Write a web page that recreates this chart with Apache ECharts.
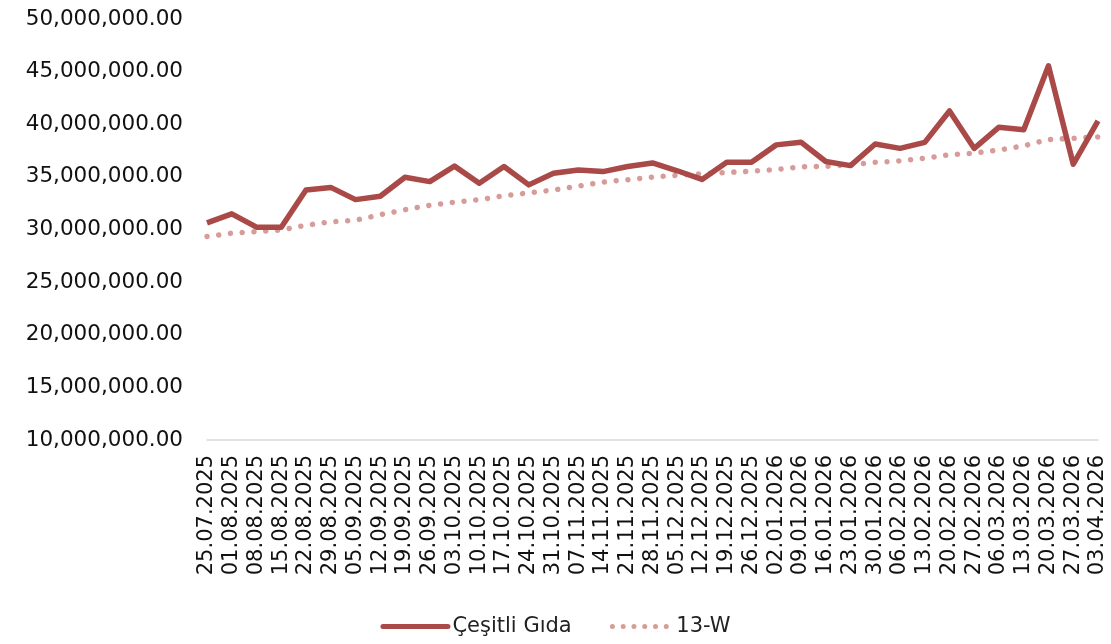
<!DOCTYPE html>
<html>
<head>
<meta charset="utf-8">
<script src="https://cdn.jsdelivr.net/npm/echarts@6/dist/echarts.min.js"></script>
<style>html,body{margin:0;padding:0;background:#fff}#c{width:1111px;height:644px}</style>
</head>
<body>
<div id="c"></div>
<script>
const categories = ["25.07.2025","01.08.2025","08.08.2025","15.08.2025","22.08.2025","29.08.2025","05.09.2025","12.09.2025","19.09.2025","26.09.2025","03.10.2025","10.10.2025","17.10.2025","24.10.2025","31.10.2025","07.11.2025","14.11.2025","21.11.2025","28.11.2025","05.12.2025","12.12.2025","19.12.2025","26.12.2025","02.01.2026","09.01.2026","16.01.2026","23.01.2026","30.01.2026","06.02.2026","13.02.2026","20.02.2026","27.02.2026","06.03.2026","13.03.2026","20.03.2026","27.03.2026","03.04.2026"];
const cesitliGida = [30.63,31.49,30.22,30.22,33.76,34.0,32.84,33.16,34.96,34.55,36.02,34.4,35.98,34.24,35.34,35.66,35.5,35.98,36.32,35.58,34.76,36.4,36.4,38.04,38.3,36.46,36.07,38.12,37.71,38.28,41.26,37.7,39.72,39.48,45.55,36.2,40.33].map(v=>v*1e6);
const w13 = [29.34,29.65,29.8,29.95,30.4,30.73,30.88,31.4,31.88,32.3,32.6,32.83,33.2,33.48,33.75,34.12,34.5,34.73,34.98,35.15,35.3,35.42,35.54,35.7,35.95,36.0,36.16,36.38,36.52,36.77,37.1,37.25,37.55,37.95,38.55,38.66,38.8].map(v=>v*1e6);
const seriesNames = ["Çeşitli Gıda","13-W"];

const font = "DejaVu Sans";
const solidIcon = 'path://M2.5,0 H67.5 A2.5,2.5 0 0,1 67.5,5 H2.5 A2.5,2.5 0 0,1 2.5,0 Z';
let dots = '';
for (let k = 0; k < 6; k++) {
  const cx = 7 + k * 11.2;
  dots += `M${cx-2.6},2.6 A2.6,2.6 0 1,0 ${cx+2.6},2.6 A2.6,2.6 0 1,0 ${cx-2.6},2.6 Z `;
}
const dotIcon = 'path://M0,2.6 L0,2.6 ' + dots + 'M70,2.6 L70,2.6';

const chart = echarts.init(document.getElementById('c'));
chart.setOption({
  animation:false,
  textStyle:{fontFamily:font},
  grid:{left:207,right:13,top:19,bottom:204,containLabel:false},
  legend:{
    bottom:2,left:'center',
    itemWidth:70,itemHeight:5,itemGap:34,
    textStyle:{fontFamily:font,fontSize:21,color:'#222',padding:[0,0,0,-3]},
    data:[{name:seriesNames[0],icon:solidIcon},{name:seriesNames[1],icon:dotIcon}]
  },
  xAxis:{
    type:'category',data:categories,boundaryGap:false,
    axisLine:{lineStyle:{color:'#d9d9d9',width:1.5}},
    axisTick:{show:false},
    axisLabel:{rotate:90,interval:0,fontFamily:font,fontSize:21,color:'#111',margin:15}
  },
  yAxis:{
    type:'value',min:10000000,max:50000000,interval:5000000,
    axisLine:{show:false},axisTick:{show:false},splitLine:{show:false},
    axisLabel:{fontFamily:font,fontSize:21.5,color:'#111',margin:24,verticalAlign:'middle',padding:[3,0,0,0],
      formatter:v=>v.toLocaleString('en-US',{minimumFractionDigits:2,maximumFractionDigits:2})}
  },
  series:[
    {name:seriesNames[0],type:'line',data:cesitliGida,symbol:'none',showSymbol:false,
     lineStyle:{color:'#A94A48',width:5.5,join:'round'},itemStyle:{color:'#A94A48'},z:3},
    {name:seriesNames[1],type:'line',data:w13,symbol:'none',showSymbol:false,
     lineStyle:{color:'#D69C9A',width:5.5,type:[0.01,11.8],cap:'round'},itemStyle:{color:'#D69C9A'},z:2}
  ]
});
</script>
</body>
</html>
